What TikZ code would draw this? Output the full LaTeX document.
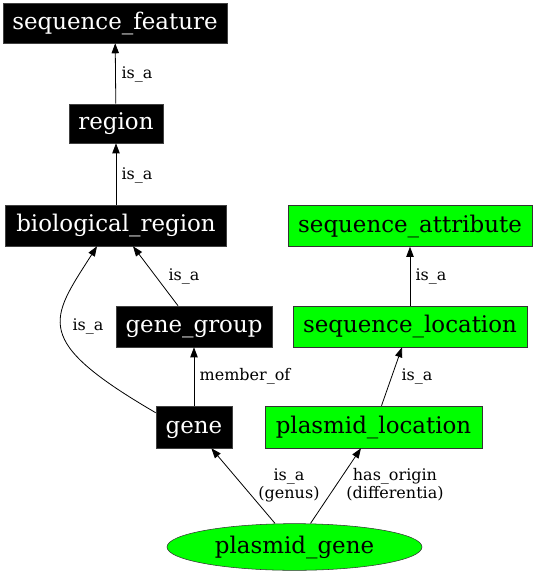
\documentclass[tikz,border=0pt]{standalone}
\usepackage{fontspec}
\setmainfont{DejaVu Serif}
\usetikzlibrary{arrows.meta,shapes.geometric,calc}
\definecolor{gvgreen}{HTML}{00FF00}
\tikzset{
  nodetext/.style={inner sep=0pt, text height=13.6pt, text depth=4pt, font=\fontsize{17.2}{19}\selectfont},
  blk/.style={nodetext, rectangle, draw=black!75, fill=black, text=white},
  grn/.style={nodetext, rectangle, draw=black!80, fill=gvgreen, text=black},
  ell/.style={nodetext, ellipse, draw=black!80, fill=gvgreen, text=black},
  lbl/.style={font=\fontsize{12}{13.5}\selectfont, inner sep=0pt, align=center},
  edge/.style={draw=black, line width=0.6pt, -{Triangle[length=7.5pt,width=5.5pt]}}
}
\begin{document}
\begin{tikzpicture}[x=0.75pt,y=-0.75pt]
\useasboundingbox (0,0) rectangle (537,576);
\node[blk, minimum width=168pt, minimum height=30pt] (sf) at (115,23) {sequence\_feature};
\node[blk, minimum width=70.5pt, minimum height=29.25pt] (rg) at (116,123.5) {region};
\node[blk, minimum width=165.75pt, minimum height=30.75pt] (br) at (116,225.5) {biological\_region};
\node[grn, minimum width=183pt, minimum height=30.75pt] (sa) at (410,226) {sequence\_attribute};
\node[blk, minimum width=117pt, minimum height=30.75pt] (gg) at (194,326.5) {gene\_group};
\node[grn, minimum width=175.5pt, minimum height=30.75pt] (sl) at (410,326.5) {sequence\_location};
\node[blk, minimum width=57pt, minimum height=31.5pt] (gn) at (194,427) {gene};
\node[grn, minimum width=162.75pt, minimum height=31.5pt] (pl) at (373.5,427) {plasmid\_location};
\node[ell, minimum width=191.25pt, minimum height=35pt] (pg) at (294.5,547) {plasmid\_gene};

\draw[edge] (rg) -- (sf);
\draw[edge] (br) -- (rg);
\draw[edge] ([xshift=-12pt]gg.north) -- ([xshift=12.75pt]br.south);
\draw[edge] ([yshift=-5.25pt]gn.north west) .. controls (31,340) and (50,320) .. ([xshift=-14.25pt]br.south);
\draw[edge] (gn) -- (gg);
\draw[edge] (sl) -- (sa);
\draw[edge] ([xshift=6pt]pl.north) -- ([xshift=-6pt]sl.south);
\draw[edge] ([xshift=-14.6pt]pg.north) -- ([xshift=13pt]gn.south);
\draw[edge] ([xshift=12pt]pg.north) -- ([xshift=-9.4pt]pl.south);

\node[lbl] (l1) at (137,74) {is\_a};
\node[lbl] (l2) at (137,175) {is\_a};
\node[lbl] (l3) at (184,276) {is\_a};
\node[lbl] (l4) at (88,326) {is\_a};
\node[lbl] (l5) at (245,376) {member\_of};
\node[lbl] (l6) at (431,276) {is\_a};
\node[lbl] (l7) at (417,376) {is\_a};
\node[lbl] (l8) at (289,485) {is\_a\\(genus)};
\node[lbl] (l9) at (395,485) {has\_origin\\(differentia)};
\end{tikzpicture}
\end{document}
